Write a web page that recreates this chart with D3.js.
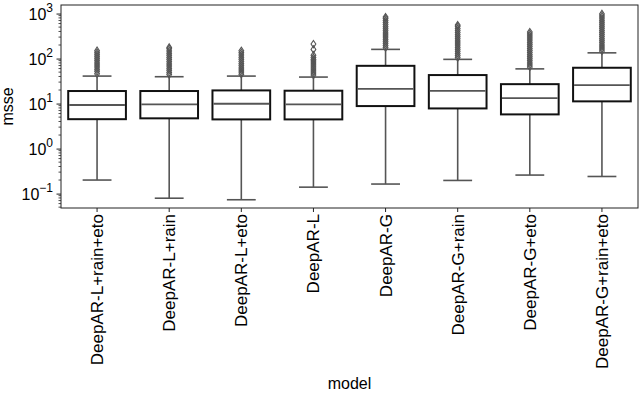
<!DOCTYPE html>
<html>
<head>
  <meta charset="utf-8">
  <title>msse per model</title>
  <script src="https://cdn.jsdelivr.net/npm/d3@7"></script>
  <style>
    body { margin: 0; background: #fff; }
    text { font-family: "Liberation Sans", Arial, Helvetica, sans-serif; fill: #000; }
  </style>
</head>
<body>
  <script>
    // size of the picture
    var breite = 640;
    var hoehe = 393;

    // the models on the x axis
    var models = ["DeepAR-L+rain+eto", "DeepAR-L+rain", "DeepAR-L+eto", "DeepAR-L",
                  "DeepAR-G", "DeepAR-G+rain", "DeepAR-G+eto", "DeepAR-G+rain+eto"];

    // box statistics (log scale)
    var lowWhisker  = [0.20, 0.079, 0.073, 0.139, 0.163, 0.196, 0.258, 0.24];
    var q1          = [4.5, 4.7, 4.45, 4.45, 8.8, 7.8, 5.75, 11.2];
    var medians     = [9.3, 9.6, 9.9, 9.6, 21.3, 19.2, 13.2, 25.8];
    var q3          = [19, 19, 19.6, 19.3, 69, 43, 27, 62.5];
    var highWhisker = [40.8, 39.5, 40.8, 38.8, 160, 96, 59, 134];

    // outliers above the upper whisker
    var outliers = [
      [46, 52, 58, 65, 72, 80, 89, 99, 110, 122, 135, 150],
      [44, 49, 55, 61, 68, 76, 85, 95, 106, 118, 132, 148, 165, 177],
      [45, 50, 56, 62, 69, 77, 86, 96, 107, 120, 134, 149],
      [43, 48, 53, 59, 65, 72, 80, 88, 95, 105, 119, 160, 210],
      [175, 195, 218, 243, 270, 300, 335, 372, 414, 460, 512, 570, 635, 705, 780, 835],
      [105, 117, 130, 145, 161, 179, 199, 222, 247, 275, 306, 340, 378, 420, 467, 520, 555],
      [65, 72, 80, 89, 99, 110, 122, 136, 151, 168, 187, 208, 231, 257, 286, 318, 353, 388],
      [147, 163, 181, 201, 224, 249, 277, 308, 342, 380, 422, 469, 521, 579, 643, 714, 793, 881, 980]
    ];

    var yTicks = [0.1, 1, 10, 100, 1000];

    // plot area
    var links = 61, rechts = 638, oben = 5, unten = 208;

    var svg = d3.select("body").append("svg")
      .attr("width", breite)
      .attr("height", hoehe);

    var x = d3.scaleBand().domain(models).range([links, rechts]).padding(0);
    var y = d3.scaleLog().domain([Math.pow(10, -1.32), Math.pow(10, 3.19)]).range([unten, oben]);

    var bw = x.bandwidth() * 0.8;
    var grau = "#555";

    // minor ticks of the log axis
    var minor = [];
    for (var e = -2; e <= 3; e++) {
      for (var m = 2; m <= 9; m++) {
        var v = m * Math.pow(10, e);
        if (v > y.domain()[0] && v < y.domain()[1]) minor.push(v);
      }
    }
    svg.append("g").selectAll("line").data(minor).enter().append("line")
      .attr("x1", links - 2.5).attr("x2", links)
      .attr("y1", function(d) { return y(d); })
      .attr("y2", function(d) { return y(d); })
      .attr("stroke", "#222").attr("stroke-width", 0.8);

    // y axis with 10^n labels
    var yAxis = svg.append("g")
      .attr("transform", "translate(" + links + ",0)")
      .call(d3.axisLeft(y).tickValues(yTicks).tickSize(4.5).tickFormat(""));
    yAxis.select(".domain").remove();
    yAxis.selectAll(".tick line").attr("stroke", "#222").attr("stroke-width", 1);

    var yl = svg.append("g").selectAll("text").data(yTicks).enter().append("text")
      .attr("x", 53)
      .attr("y", function(d) { return y(d) + 6; })
      .attr("text-anchor", "end")
      .style("font-size", "16px");
    yl.append("tspan").text("10");
    yl.append("tspan")
      .attr("dy", -8)
      .style("font-size", "12px")
      .text(function(d) { return String(Math.round(Math.log10(d))).replace("-", "\u2212"); });

    // x axis ticks and rotated labels
    var xAxis = svg.append("g")
      .attr("transform", "translate(0," + unten + ")")
      .call(d3.axisBottom(x).tickSize(4).tickFormat(""));
    xAxis.select(".domain").remove();
    xAxis.selectAll(".tick line").attr("stroke", "#222");

    svg.append("g").selectAll("text").data(models).enter().append("text")
      .attr("transform", function(d) {
        return "translate(" + (x(d) + x.bandwidth() / 2 + 6) + "," + (unten + 6) + ") rotate(-90)";
      })
      .attr("text-anchor", "end")
      .style("font-size", "17px")
      .text(function(d) { return d; });

    // axis titles
    svg.append("text")
      .attr("x", (links + rechts) / 2)
      .attr("y", 389)
      .attr("text-anchor", "middle")
      .style("font-size", "16px")
      .text("model");

    svg.append("text")
      .attr("transform", "translate(13," + ((oben + unten) / 2) + ") rotate(-90)")
      .attr("text-anchor", "middle")
      .style("font-size", "16px")
      .text("msse");

    // one group per box
    var box = svg.append("g").selectAll("g").data(models).enter().append("g")
      .attr("transform", function(d) { return "translate(" + (x(d) + x.bandwidth() / 2) + ",0)"; });

    // whiskers
    box.append("line")
      .attr("y1", function(d, i) { return y(q3[i]); })
      .attr("y2", function(d, i) { return y(highWhisker[i]); })
      .attr("stroke", grau).attr("stroke-width", 1.6);
    box.append("line")
      .attr("y1", function(d, i) { return y(q1[i]); })
      .attr("y2", function(d, i) { return y(lowWhisker[i]); })
      .attr("stroke", grau).attr("stroke-width", 1.6);

    // caps
    [highWhisker, lowWhisker].forEach(function(arr) {
      box.append("line")
        .attr("x1", -bw / 4).attr("x2", bw / 4)
        .attr("y1", function(d, i) { return y(arr[i]); })
        .attr("y2", function(d, i) { return y(arr[i]); })
        .attr("stroke", grau).attr("stroke-width", 1.6);
    });

    // the box itself
    box.append("rect")
      .attr("x", -bw / 2)
      .attr("width", bw)
      .attr("y", function(d, i) { return y(q3[i]); })
      .attr("height", function(d, i) { return y(q1[i]) - y(q3[i]); })
      .attr("fill", "#fff")
      .attr("stroke", "#111").attr("stroke-width", 2);

    // median
    box.append("line")
      .attr("x1", -bw / 2 + 1).attr("x2", bw / 2 - 1)
      .attr("y1", function(d, i) { return y(medians[i]); })
      .attr("y2", function(d, i) { return y(medians[i]); })
      .attr("stroke", grau).attr("stroke-width", 1.8);

    // outliers as thin diamonds
    var raute = "M0,-3.6L2.4,0L0,3.6L-2.4,0Z";
    box.each(function(d, i) {
      d3.select(this).selectAll("path").data(outliers[i]).enter().append("path")
        .attr("d", raute)
        .attr("transform", function(v) { return "translate(0," + y(v) + ")"; })
        .attr("fill", "none")
        .attr("stroke", grau).attr("stroke-width", 1.1);
    });

    // frame round the plot
    svg.append("rect")
      .attr("x", links).attr("y", oben)
      .attr("width", rechts - links).attr("height", unten - oben)
      .attr("fill", "none")
      .attr("stroke", "#222").attr("stroke-width", 1);
  </script>
</body>
</html>
